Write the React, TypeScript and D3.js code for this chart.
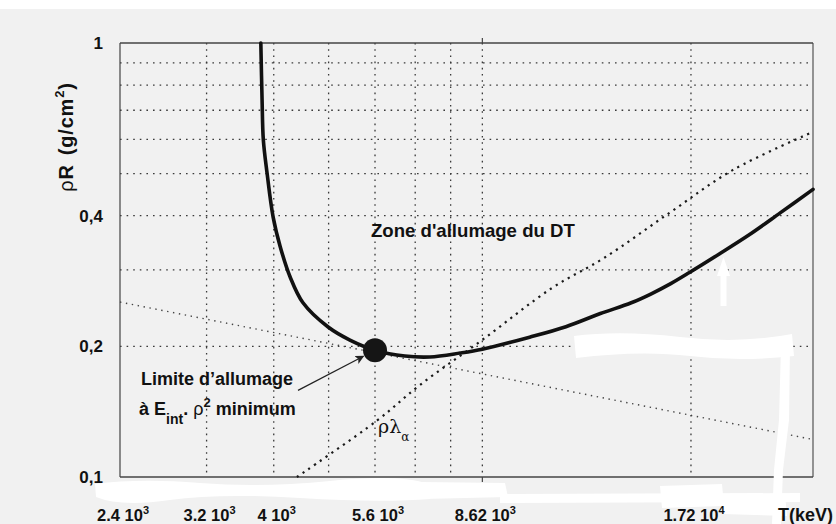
import React from 'react';
import * as d3 from 'd3';

// ---------- data ----------
const T_MAIN = [4.79, 4.81, 4.83, 4.89, 4.99, 5.11, 5.28, 5.51, 5.99, 6.44, 7.0, 7.73, 8.4, 9.29, 10, 11.7, 13.2, 14.8, 16.4, 17.5, 18.7, 19.9, 22.0, 24.3, 26.9, 30];
const RHO_MAIN = [1.0, 0.739, 0.598, 0.502, 0.397, 0.339, 0.289, 0.252, 0.2216, 0.2068, 0.196, 0.19, 0.189, 0.193, 0.197, 0.21, 0.222, 0.238, 0.252, 0.264, 0.279, 0.296, 0.327, 0.362, 0.406, 0.46];
const T_LAMBDA = [5.4, 7.05, 8.13, 10, 12.6, 15.0, 18.7, 23.0, 30];
const RHO_LAMBDA = [0.1, 0.135, 0.163, 0.207, 0.2725, 0.32, 0.408, 0.51, 0.624];
const T_RAD = [3, 30];
const RHO_RAD = [0.253, 0.122];
const MIN_T = [7];
const MIN_RHO = [0.196];
const X_GRID = [4, 5, 6, 7, 8, 9, 10, 20];
const Y_GRID = [0.2, 0.3, 0.4, 0.5, 0.6, 0.7, 0.8, 0.9];
const X_TICKS = [3, 4, 5, 7, 10, 20];
const X_TICK_MANT = ['2.4', '3.2', '4', '5.6', '8.62', '1.72'];
const X_TICK_EXP = ['3', '3', '3', '3', '3', '4'];
const Y_TICKS = [1, 0.4, 0.2, 0.1];
const Y_TICK_LABELS = ['1', '0,4', '0,2', '0,1'];

// decorative correction-fluid smudges of the scanned original
const SMUDGES = [
  'M95,484 Q140,478 200,483 T330,481 T428,484 L430,499 Q380,503 300,498 T170,500 T96,497 Z',
  'M420,482 L505,483 L508,497 L422,499 Z',
  'M500,494 L800,493 L800,502 L500,503 Z',
  'M660,486 L722,484 L724,506 L662,508 Z',
  'M720,495 L785,494 L787,516 L722,514 Z',
  'M574,336 Q620,330 680,337 T792,334 L794,356 Q740,362 690,356 T576,358 Z',
  'M781,345 L790,345 L789,420 L783,470 L781,524 L772,524 L774,470 L779,420 Z',
  'M717,276 L723.5,257 L730,276 L726.5,276 L726.5,306 L720.5,306 L720.5,276 Z',
];

const W = 836;
const H = 524;
const FONT = "'Liberation Sans', Arial, sans-serif";

export default function App() {
  const x = d3.scaleLog().domain([3, 30]).range([120, 813]);
  const y = d3.scaleLog().domain([0.1, 1]).range([477, 43]);

  const mainLine = d3
    .line<number>()
    .x((_, i) => x(T_MAIN[i]))
    .y((d) => y(d))
    .curve(d3.curveCatmullRom.alpha(0.5));
  const lamLine = d3
    .line<number>()
    .x((_, i) => x(T_LAMBDA[i]))
    .y((d) => y(d))
    .curve(d3.curveCatmullRom.alpha(0.5));
  const radLine = d3
    .line<number>()
    .x((_, i) => x(T_RAD[i]))
    .y((d) => y(d));

  const cx = x(MIN_T[0]);
  const cy = y(MIN_RHO[0]);
  const r = 12;
  // arrow from label to dot
  const ax0 = x(3) + 178;
  const ay0 = y(0.2) + 44;
  const vx = cx - ax0;
  const vy = cy - ay0;
  const len = Math.hypot(vx, vy);
  const ax1 = cx - (vx / len) * (r + 1);
  const ay1 = cy - (vy / len) * (r + 1);

  return (
    <svg
      width={W}
      height={H}
      style={{ position: 'absolute', left: 0, top: 0, background: '#f1f1f1' }}
      fontFamily={FONT}
    >
      <defs>
        <marker id="ah" viewBox="0 0 10 10" refX="9" refY="5" markerWidth="9" markerHeight="9" markerUnits="userSpaceOnUse" orient="auto">
          <path d="M0,0 L10,5 L0,10 L2.5,5 Z" fill="#222" />
        </marker>
      </defs>
      <rect x={0} y={0} width={W} height={9} fill="#fff" />

      {/* grid */}
      <g stroke="#3a3a3a" strokeWidth={1.3} fill="none">
        {Y_GRID.map((v) => (
          <line key={'h' + v} x1={x(3)} x2={x(30)} y1={y(v)} y2={y(v)} strokeDasharray="1.6 5" />
        ))}
        {X_GRID.map((v) => (
          <line key={'v' + v} x1={x(v)} x2={x(v)} y1={y(1)} y2={y(0.1)} strokeDasharray="1.6 4.6" />
        ))}
      </g>

      {/* frame */}
      <g stroke="#444" fill="none">
        <line x1={x(3)} x2={x(30)} y1={y(1)} y2={y(1)} strokeWidth={1.6} />
        <line x1={x(3)} x2={x(30)} y1={y(0.1)} y2={y(0.1)} strokeWidth={1.6} />
        <line x1={x(3)} x2={x(3)} y1={y(1)} y2={y(0.1)} strokeWidth={1.2} />
        <line x1={x(30)} x2={x(30)} y1={y(1)} y2={y(0.1)} strokeWidth={1.1} />
        <line x1={x(10)} x2={x(10)} y1={y(0.1)} y2={y(0.1) + 5} strokeWidth={1.2} />
        <line x1={x(10)} x2={x(10)} y1={y(1) - 5} y2={y(1)} strokeWidth={1.2} />
      </g>

      {/* dotted model lines */}
      <path d={radLine(RHO_RAD) || ''} fill="none" stroke="#444" strokeWidth={1.4} strokeDasharray="1.4 4.6" />
      <path d={lamLine(RHO_LAMBDA) || ''} fill="none" stroke="#1a1a1a" strokeWidth={2.2} strokeDasharray="2.2 4.8" />

      {/* main ignition curve */}
      <path d={mainLine(RHO_MAIN) || ''} fill="none" stroke="#111" strokeWidth={3.6} strokeLinecap="round" strokeLinejoin="round" />
      <circle cx={cx} cy={cy} r={r} fill="#151515" />

      {/* smudges */}
      <g fill="#ffffff">
        {SMUDGES.map((d, i) => (
          <path key={i} d={d} />
        ))}
      </g>

      {/* y tick labels */}
      <g fontWeight="bold" fontSize={17} fill="#111" textAnchor="end">
        {Y_TICKS.map((v, i) => (
          <text key={v} x={x(3) - 17} y={y(v) + 6}>
            {Y_TICK_LABELS[i]}
          </text>
        ))}
      </g>

      {/* x tick labels */}
      <g fontWeight="bold" fontSize={16.5} fill="#111" textAnchor="middle">
        {X_TICKS.map((v, i) => (
          <text key={v} x={x(v) + 3} y={521}>
            {X_TICK_MANT[i] + ' 10'}
            <tspan fontSize={11} dy={-7}>
              {X_TICK_EXP[i]}
            </tspan>
          </text>
        ))}
      </g>
      <text x={833} y={521} textAnchor="end" fontWeight="bold" fontSize={18} fill="#111">
        T(keV)
      </text>

      {/* y axis title */}
      <text transform="translate(73,137) rotate(-90)" textAnchor="middle" fontSize={20} fill="#111" letterSpacing={0.8}>
        <tspan>ρ</tspan>
        <tspan fontWeight="bold">R</tspan>
        <tspan fontWeight="bold" dx={9}>(g/cm</tspan>
        <tspan fontWeight="bold" fontSize={13} dy={-9}>2</tspan>
        <tspan fontWeight="bold" dy={9}>)</tspan>
      </text>

      {/* annotations */}
      <text x={x(7) - 4} y={237} fontWeight="bold" fontSize={18.6} fill="#111">
        Zone d'allumage du DT
      </text>
      <text x={141} y={385} fontWeight="bold" fontSize={18} fill="#111">
        Limite d’allumage
      </text>
      <text x={139} y={415} fontWeight="bold" fontSize={18} fill="#111">
        <tspan>à E</tspan>
        <tspan fontSize={14} dy={9}>int</tspan>
        <tspan dy={-9}>. </tspan>
        <tspan fontWeight="normal">ρ</tspan>
        <tspan fontSize={13} dy={-8}>2</tspan>
        <tspan dy={8}> minimum</tspan>
      </text>
      <line x1={ax0} y1={ay0} x2={ax1} y2={ay1} stroke="#222" strokeWidth={1.2} markerEnd="url(#ah)" />

      <text x={378} y={433} fontSize={19} fill="#111" fontFamily="'DejaVu Serif', serif">
        ρλ
        <tspan fontSize={12} dy={8}>α</tspan>
      </text>
    </svg>
  );
}
